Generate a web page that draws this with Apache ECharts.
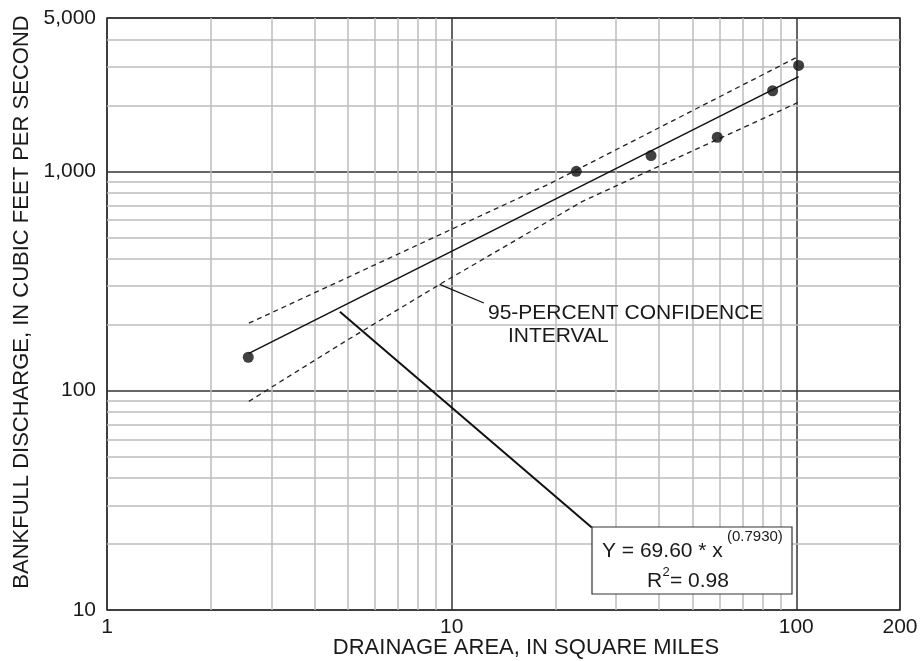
<!DOCTYPE html>
<html>
<head>
<meta charset="utf-8">
<script src="https://cdn.jsdelivr.net/npm/echarts@6/dist/echarts.min.js"></script>
<style>
html,body{margin:0;padding:0;background:#fff;}
#chart{width:922px;height:661px;}
</style>
</head>
<body>
<div id="chart"></div>
<script>
// ---- data ----
const xMinorGrid = [2, 3, 4, 5, 6, 7, 8, 9, 20, 30, 40, 50, 60, 70, 80, 90];
const yMinorGrid = [20, 30, 40, 50, 60, 70, 80, 90, 200, 300, 400, 500, 600, 700, 800, 900, 2000, 3000, 4000];
const stationArea = [2.57, 23.0, 37.9, 59.0, 85.4, 101.6];
const stationDischarge = [142, 1000, 1180, 1430, 2330, 3040];
const regressionLine = [[2.58, 148], [101.6, 2700]];
const upperBand = [[2.58, 203], [4.74, 316], [19.2, 876], [101.6, 3343]];
const lowerBand = [[2.58, 89.4], [4.95, 169], [9.23, 305], [24.0, 730], [101.6, 2066]];
const equationLeader = [[4.74, 229], [25.5, 23.8]];
const bandLeader = [[9.23, 305], [12.4, 251]];

const FONT = 'Liberation Sans';
const TXT = '#1a1a1a';

const chart = echarts.init(document.getElementById('chart'), null, {renderer: 'canvas'});

function fmt(v) {
  return String(Math.round(v)).replace(/\B(?=(\d{3})+(?!\d))/g, ',');
}

const option = {
  animation: false,
  backgroundColor: '#fff',
  grid: {left: 107, top: 18, right: 22, bottom: 51, show: true, borderColor: '#333', borderWidth: 1.5,
         backgroundColor: 'transparent', containLabel: false, outerBoundsMode: 'none'},
  xAxis: {
    type: 'log', logBase: 10, min: 1, max: 200,
    name: 'DRAINAGE AREA, IN SQUARE MILES',
    nameLocation: 'middle', nameGap: 27, nameMoveOverlap: false,
    nameTextStyle: {fontFamily: FONT, fontSize: 22, color: TXT, padding: [0, 0, 0, 45]},
    axisLine: {show: false}, axisTick: {show: false},
    axisLabel: {fontFamily: FONT, fontSize: 21, color: TXT, margin: 7, formatter: fmt},
    splitLine: {show: true, lineStyle: {color: '#333', width: 1.5}}
  },
  yAxis: {
    type: 'log', logBase: 10, min: 10, max: 5000,
    name: 'BANKFULL DISCHARGE, IN CUBIC FEET PER SECOND',
    nameLocation: 'middle', nameGap: 74, nameMoveOverlap: false,
    nameTextStyle: {fontFamily: FONT, fontSize: 22, color: TXT, padding: [0, 0, 0, 24]},
    axisLine: {show: false}, axisTick: {show: false},
    axisLabel: {fontFamily: FONT, fontSize: 21, color: TXT, margin: 11, formatter: fmt},
    splitLine: {show: true, lineStyle: {color: '#333', width: 1.5}}
  },
  series: [
    {
      type: 'line', data: [], z: 1, silent: true,
      markLine: {
        silent: true, symbol: 'none', animation: false, z: 1,
        label: {show: false},
        lineStyle: {color: '#bdbdbd', width: 1.5, type: 'solid'},
        emphasis: {disabled: true},
        data: xMinorGrid.map(v => ({xAxis: v})).concat(yMinorGrid.map(v => ({yAxis: v})))
      }
    },
    {type: 'line', data: upperBand, z: 3, symbol: 'none', lineStyle: {color: '#222', width: 1.3, type: [5, 4]}},
    {type: 'line', data: lowerBand, z: 3, symbol: 'none', lineStyle: {color: '#222', width: 1.3, type: [5, 4]}},
    {type: 'line', data: regressionLine, z: 3, symbol: 'none', lineStyle: {color: '#111', width: 1.5}},
    {type: 'line', data: equationLeader, z: 3, symbol: 'none', lineStyle: {color: '#111', width: 2}},
    {type: 'line', data: bandLeader, z: 3, symbol: 'none', lineStyle: {color: '#111', width: 1.3}},
    {
      type: 'scatter', z: 5, symbol: 'circle', symbolSize: 11,
      itemStyle: {color: '#111'},
      data: stationArea.map((x, i) => [x, stationDischarge[i]])
    }
  ],
  graphic: [
    {type: 'text', z: 10, style: {text: '95-PERCENT CONFIDENCE', x: 488, y: 313, font: '21px "' + FONT + '"', fill: TXT, verticalAlign: 'middle'}},
    {type: 'text', z: 10, style: {text: 'INTERVAL', x: 508, y: 336, font: '21px "' + FONT + '"', fill: TXT, verticalAlign: 'middle'}},
    {type: 'rect', z: 20, shape: {x: 592, y: 527, width: 200, height: 67}, style: {fill: '#fff', stroke: '#333', lineWidth: 1.2}},
    {type: 'text', z: 21, style: {text: 'Y = 69.60 * x', x: 602, y: 551, font: '21px "' + FONT + '"', fill: TXT, verticalAlign: 'middle'}},
    {type: 'text', z: 21, style: {text: '(0.7930)', x: 727, y: 537, font: '15px "' + FONT + '"', fill: TXT, verticalAlign: 'middle'}},
    {type: 'text', z: 21, style: {text: 'R', x: 647, y: 581, font: '21px "' + FONT + '"', fill: TXT, verticalAlign: 'middle'}},
    {type: 'text', z: 21, style: {text: '2', x: 662.5, y: 572, font: '13px "' + FONT + '"', fill: TXT, verticalAlign: 'middle'}},
    {type: 'text', z: 21, style: {text: '= 0.98', x: 670, y: 581, font: '21px "' + FONT + '"', fill: TXT, verticalAlign: 'middle'}}
  ]
};
chart.setOption(option);
</script>
</body>
</html>
